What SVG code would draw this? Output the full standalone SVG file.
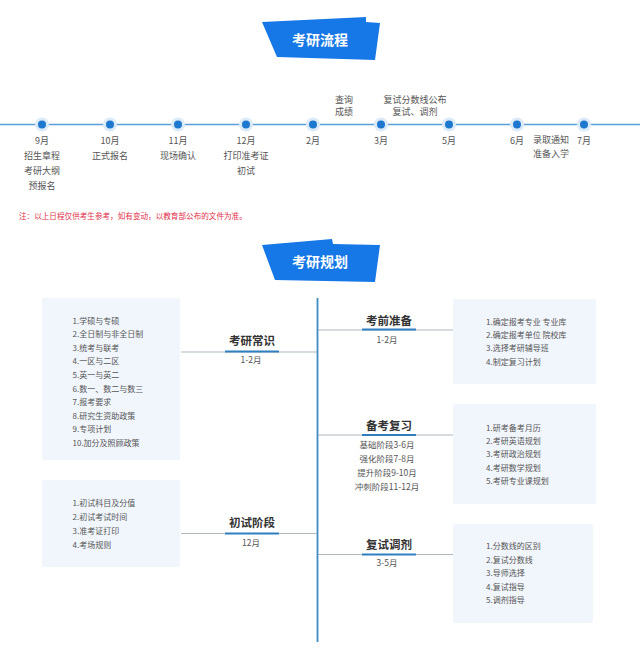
<svg xmlns="http://www.w3.org/2000/svg" width="640" height="654" viewBox="0 0 640 654">
<style>
text{font-family:"Noto Sans CJK SC","Noto Sans",sans-serif;dominant-baseline:central}
.ban{fill:#1677e6}
.bt{fill:#fff;font-size:14px;font-weight:bold;text-anchor:middle}
.m{fill:#555;font-size:9px;text-anchor:middle}
.note{fill:#e0304a;font-size:7.6px}
.halo{fill:#dbeaf8}
.dot{fill:#1f78cf}
.box{fill:#f1f6fc}
.li{fill:#555;font-size:8px}
.h{fill:#333;font-size:11.5px;font-weight:bold;text-anchor:middle}
.bar{stroke:#2f7fc0;stroke-width:2.2}
.sub{fill:#555;font-size:8.5px;text-anchor:middle}
.gl{stroke:#9aa4ad;stroke-width:0.8}
</style>
<rect width="640" height="654" fill="#fff"/>

<g id="banner1">
<polygon class="ban" points="262,22 366,17 366,22 380,23 375,60 277,57"/>
<text class="bt" x="320" y="39">考研流程</text>
</g>

<g id="connectors">
<line x1="0" y1="124.5" x2="640" y2="124.5" stroke="#5b9fd9" stroke-width="1.6"/>
<line x1="317.5" y1="298" x2="317.5" y2="642" stroke="#3f8bc2" stroke-width="1.8"/>
<line class="gl" x1="181" y1="352" x2="317" y2="352"/>
<line class="gl" x1="318" y1="330" x2="453" y2="330"/>
<line class="gl" x1="318" y1="435" x2="453" y2="435"/>
<line class="gl" x1="181" y1="533.5" x2="317" y2="533.5"/>
<line class="gl" x1="318" y1="554.5" x2="453" y2="554.5"/>
</g>

<g id="t-sep">
<circle class="halo" cx="42" cy="124.5" r="7"/><circle class="dot" cx="42" cy="124.5" r="4"/>
<text class="m" x="42" y="140">9月</text>
<text class="m" x="42" y="155">招生章程</text>
<text class="m" x="42" y="170">考研大纲</text>
<text class="m" x="42" y="185">预报名</text>
</g>
<g id="t-oct">
<circle class="halo" cx="110" cy="124.5" r="7"/><circle class="dot" cx="110" cy="124.5" r="4"/>
<text class="m" x="110" y="140">10月</text>
<text class="m" x="110" y="155">正式报名</text>
</g>
<g id="t-nov">
<circle class="halo" cx="178" cy="124.5" r="7"/><circle class="dot" cx="178" cy="124.5" r="4"/>
<text class="m" x="178" y="140">11月</text>
<text class="m" x="178" y="155">现场确认</text>
</g>
<g id="t-dec">
<circle class="halo" cx="246" cy="124.5" r="7"/><circle class="dot" cx="246" cy="124.5" r="4"/>
<text class="m" x="246" y="140">12月</text>
<text class="m" x="246" y="155">打印准考证</text>
<text class="m" x="246" y="170">初试</text>
</g>
<g id="t-feb">
<circle class="halo" cx="313" cy="124.5" r="7"/><circle class="dot" cx="313" cy="124.5" r="4"/>
<text class="m" x="313" y="140">2月</text>
<text class="m" x="344" y="99">查询</text>
<text class="m" x="344" y="111">成绩</text>
</g>
<g id="t-mar">
<circle class="halo" cx="381" cy="124.5" r="7"/><circle class="dot" cx="381" cy="124.5" r="4"/>
<text class="m" x="381" y="140">3月</text>
<text class="m" x="415" y="99">复试分数线公布</text>
<text class="m" x="415" y="111">复试、调剂</text>
</g>
<g id="t-may">
<circle class="halo" cx="449" cy="124.5" r="7"/><circle class="dot" cx="449" cy="124.5" r="4"/>
<text class="m" x="449" y="140">5月</text>
</g>
<g id="t-jun">
<circle class="halo" cx="517" cy="124.5" r="7"/><circle class="dot" cx="517" cy="124.5" r="4"/>
<text class="m" x="517" y="140">6月</text>
<text class="m" x="551" y="139">录取通知</text>
<text class="m" x="551" y="153">准备入学</text>
</g>
<g id="t-jul">
<circle class="halo" cx="584" cy="124.5" r="7"/><circle class="dot" cx="584" cy="124.5" r="4"/>
<text class="m" x="584" y="140">7月</text>
</g>

<g id="note">
<text class="note" x="19" y="215">注：以上日程仅供考生参考，如有变动，以教育部公布的文件为准。</text>
</g>

<g id="banner2">
<polygon class="ban" points="262,245 332,239 333,244 380,245 375,282 275,280"/>
<text class="bt" x="320" y="261">考研规划</text>
</g>

<g id="p-changshi">
<rect class="box" x="42" y="298" width="138" height="162" rx="2"/>
<text class="li" x="72.5" y="320">1.学硕与专硕</text>
<text class="li" x="72.5" y="333.6">2.全日制与非全日制</text>
<text class="li" x="72.5" y="347.2">3.统考与联考</text>
<text class="li" x="72.5" y="360.8">4.一区与二区</text>
<text class="li" x="72.5" y="374.4">5.英一与英二</text>
<text class="li" x="72.5" y="388">6.数一、数二与数三</text>
<text class="li" x="72.5" y="401.6">7.报考要求</text>
<text class="li" x="72.5" y="415.2">8.研究生资助政策</text>
<text class="li" x="72.5" y="428.8">9.专项计划</text>
<text class="li" x="72.5" y="442.4">10.加分及照顾政策</text>
<text class="h" x="252" y="340">考研常识</text>
<line class="bar" x1="225" y1="351.5" x2="279" y2="351.5"/>
<text class="sub" x="251" y="359">1-2月</text>
</g>

<g id="p-kaoqian">
<rect class="box" x="453" y="299" width="143" height="85" rx="2"/>
<text class="li" x="486" y="321">1.确定报考专业 专业库</text>
<text class="li" x="486" y="334.3">2.确定报考单位 院校库</text>
<text class="li" x="486" y="347.6">3.选择考研辅导班</text>
<text class="li" x="486" y="361">4.制定复习计划</text>
<text class="h" x="389" y="319.5">考前准备</text>
<line class="bar" x1="362" y1="329.5" x2="416" y2="329.5"/>
<text class="sub" x="387" y="339">1-2月</text>
</g>

<g id="p-beikao">
<rect class="box" x="453" y="404" width="143" height="100" rx="2"/>
<text class="li" x="486" y="427">1.研考备考月历</text>
<text class="li" x="486" y="440.3">2.考研英语规划</text>
<text class="li" x="486" y="453.6">3.考研政治规划</text>
<text class="li" x="486" y="467">4.考研数学规划</text>
<text class="li" x="486" y="480.5">5.考研专业课规划</text>
<text class="h" x="389" y="424.5">备考复习</text>
<line class="bar" x1="362" y1="435" x2="416" y2="435"/>
<text class="sub" x="387" y="443.5">基础阶段3-6月</text>
<text class="sub" x="387" y="457.8">强化阶段7-8月</text>
<text class="sub" x="387" y="472.3">提升阶段9-10月</text>
<text class="sub" x="387" y="486">冲刺阶段11-12月</text>
</g>

<g id="p-chushi">
<rect class="box" x="42" y="480" width="138" height="87" rx="2"/>
<text class="li" x="72.5" y="502.3">1.初试科目及分值</text>
<text class="li" x="72.5" y="516.3">2.初试考试时间</text>
<text class="li" x="72.5" y="530">3.准考证打印</text>
<text class="li" x="72.5" y="544">4.考场规则</text>
<text class="h" x="252" y="522">初试阶段</text>
<line class="bar" x1="225" y1="533.5" x2="279" y2="533.5"/>
<text class="sub" x="251" y="541.5">12月</text>
</g>

<g id="p-fushi">
<rect class="box" x="453" y="524" width="140" height="99" rx="2"/>
<text class="li" x="486" y="545.7">1.分数线的区别</text>
<text class="li" x="486" y="559">2.复试分数线</text>
<text class="li" x="486" y="572.3">3.导师选择</text>
<text class="li" x="486" y="586">4.复试指导</text>
<text class="li" x="486" y="599.3">5.调剂指导</text>
<text class="h" x="389" y="544">复试调剂</text>
<line class="bar" x1="362" y1="554.5" x2="416" y2="554.5"/>
<text class="sub" x="387" y="562">3-5月</text>
</g>
</svg>
